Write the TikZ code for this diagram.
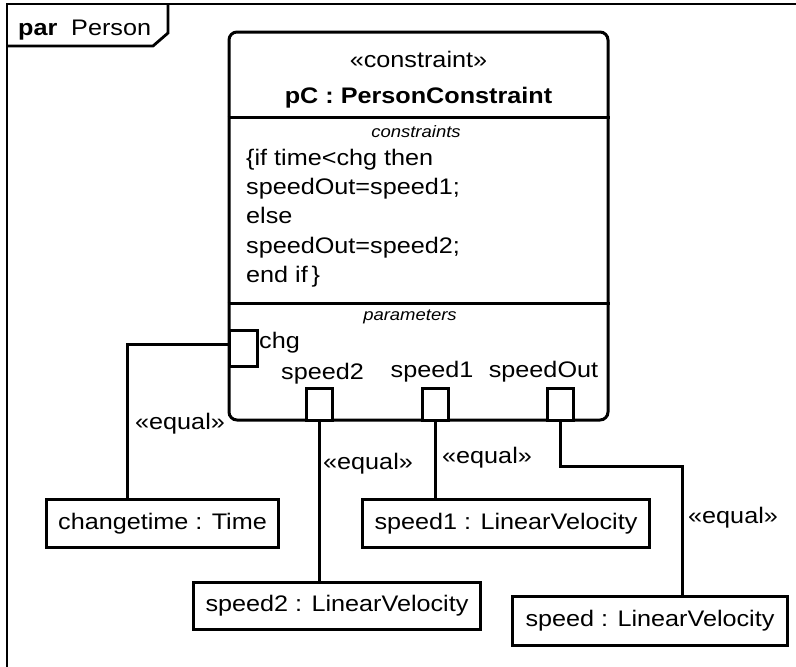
\documentclass[tikz,border=0pt]{standalone}
\usepackage{fontspec}
\setmainfont{Liberation Sans}[FakeStretch=1.12]
\usepackage{tikz}
\newcommand\txtbody{\fontsize{22.5}{27}\selectfont}
\newcommand\txtsmall{\fontsize{16.5}{20}\selectfont}
\tikzset{
  frm/.style   ={line width=2.8pt, line join=miter},
  blk/.style   ={draw, rounded corners=8pt, minimum width=379pt,
                 minimum height=388pt, inner sep=0pt, line width=3pt},
  sep/.style   ={line width=3pt},
  prt/.style   ={draw, fill=white, minimum width=26pt, minimum height=32pt,
                 inner sep=0pt, line width=3pt},
  part/.style  ={draw, fill=white, minimum height=48pt, inner sep=0pt,
                 line width=3pt, font=\txtbody},
  cnx/.style   ={line width=3pt},
  lab/.style   ={anchor=base west, inner sep=0pt, font=\txtbody},
  ttl/.style   ={anchor=base, inner sep=0pt, font=\txtbody},
  cmp/.style   ={anchor=base, inner sep=0pt, font=\txtsmall\itshape},
}
\begin{document}
\begin{tikzpicture}[x=1pt,y=-1pt]
  \useasboundingbox (0,0) rectangle (796,667);
  \clip (0,0) rectangle (796,667);
  % frame, runs off right and bottom
  \draw[frm] (7,4) rectangle (812,682);
  \draw[frm] (7,46) -- (153,46) -- (168,33) -- (168,4);
  \node[lab] (kw) at (18,35) {\bfseries par};
  \node[lab] (fname) at (71,35) {Person};
  % constraint property
  \node[blk] (pc) at (418.5,226) {};
  \node[ttl] (st) at (418.5,67) {«constraint»};
  \node[ttl] (nm) at (418.5,103) {\bfseries pC : PersonConstraint};
  \draw[sep] (pc.west |- 0,117) -- (pc.east |- 0,117);
  \node[cmp] (cn) at (416,137) {constraints};
  \node[lab] (c1) at (246,165) {\{if time<chg then};
  \node[lab] (c2) at (246,194) {speedOut=speed1;};
  \node[lab] (c3) at (246,223.5) {else};
  \node[lab] (c4) at (246,253) {speedOut=speed2;};
  \node[lab] (c5) at (246,282) {end if\,\}};
  \draw[sep] (pc.west |- 0,303) -- (pc.east |- 0,303);
  \node[cmp] (pm) at (410,320) {parameters};
  % parameter ports
  \node[prt, minimum width=28pt, minimum height=36pt] (pchg) at (243,348) {};
  \node[prt] (psp2) at (319,404) {};
  \node[prt] (psp1) at (435,404) {};
  \node[prt] (pout) at (560,404) {};
  \node[lab] (lchg) at (259,348) {chg};
  \node[ttl] (lsp2) at (322.5,379) {speed2};
  \node[ttl] (lsp1) at (432,377) {speed1};
  \node[ttl] (lout) at (543.5,377) {speedOut};
  % value properties
  \node[part, minimum width=232pt] (ct) at (162.5,523.5) {changetime : Time};
  \node[part, minimum width=287pt] (sv1) at (506,523.5) {speed1 : LinearVelocity};
  \node[part, minimum width=287pt, minimum height=47pt] (sv2) at (337,605.5) {speed2 : LinearVelocity};
  \node[part, minimum width=275pt, minimum height=49pt] (sv) at (650,621) {speed : LinearVelocity};
  % binding connectors
  \coordinate (bend) at (682,466);
  \draw[cnx] ([yshift=4pt]pchg.west) -| ([xshift=-35.5pt]ct.north);
  \draw[cnx] (psp2.south) -- (psp2.south |- sv2.north);
  \draw[cnx] (psp1.south) -- (psp1.south |- sv1.north);
  \draw[cnx] (pout.south) |- (bend) -- (bend |- sv.north);
  \node[lab] (e1) at (135,429) {«equal»};
  \node[lab] (e2) at (323,469) {«equal»};
  \node[lab] (e3) at (442,463) {«equal»};
  \node[lab] (e4) at (688,523) {«equal»};
\end{tikzpicture}
\end{document}
